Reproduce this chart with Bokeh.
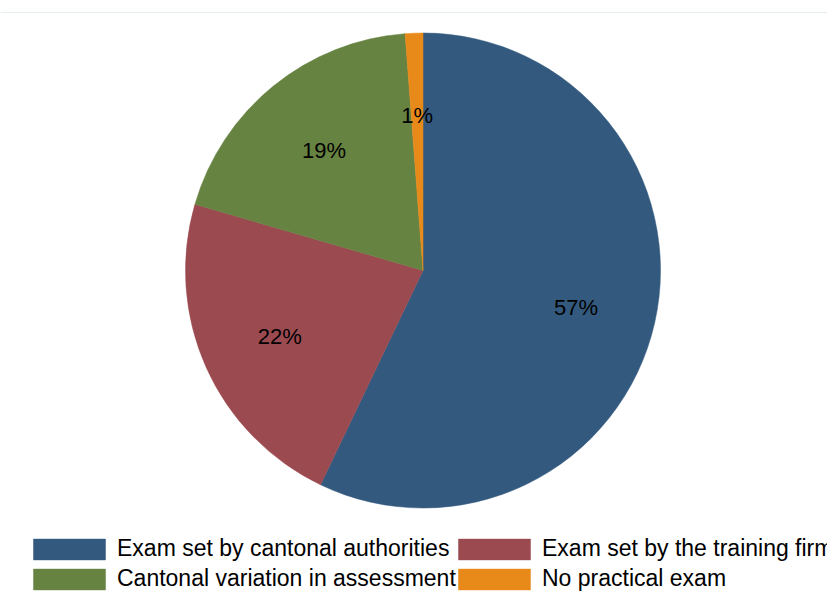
import math
from bokeh.plotting import figure
from bokeh.models import Range1d, Legend, LegendItem, ColumnDataSource, Span
from bokeh.core.properties import value
from bokeh.embed import file_html
from bokeh.resources import INLINE

categories = ["Exam set by cantonal authorities", "Exam set by the training firm",
              "Cantonal variation in assessment", "No practical exam"]
shares = [57.1, 22.4, 19.3, 1.2]
labels = ["57%", "22%", "19%", "1%"]
colors = ["#335a7e", "#9b4a50", "#678342", "#e88a1a"]

W, H = 827, 608
CX, CY, R = 422.5, H - 270, 237.5
LR = 157

total = sum(shares)
starts, ends, lx, ly = [], [], [], []
cum = 0.0
for s in shares:
    a0 = math.pi / 2 - 2 * math.pi * cum / total
    cum += s
    a1 = math.pi / 2 - 2 * math.pi * cum / total
    starts.append(a0)
    ends.append(a1)
    mid = (a0 + a1) / 2
    lx.append(CX + LR * math.cos(mid))
    ly.append(CY + LR * math.sin(mid) - 2)

p = figure(width=W, height=H, output_backend="svg", toolbar_location=None,
           x_range=Range1d(0, W), y_range=Range1d(0, H), min_border=0)
p.axis.visible = False
p.grid.visible = False
p.outline_line_color = None
p.background_fill_color = "white"

renderers = []
for i in range(len(shares)):
    src = ColumnDataSource(dict(x=[CX], y=[CY], s=[starts[i]], e=[ends[i]]))
    r = p.wedge(x="x", y="y", radius=R, start_angle="s", end_angle="e", direction="clock",
                fill_color=colors[i], line_color=colors[i], line_width=0.5, source=src)
    renderers.append(r)

p.text(x=lx, y=ly, text=labels, text_align="center", text_baseline="middle",
       text_font=value("Liberation Sans"), text_font_size="22px", text_color="black")

p.add_layout(Span(location=H - 12, dimension="width", line_color="#e6eded", line_width=1))

legend_style = dict(glyph_width=90, glyph_height=26, label_standoff=3, spacing=3,
                    padding=0, margin=0, label_text_font="Liberation Sans",
                    label_text_font_size="23px", label_text_color="black",
                    border_line_color=None, background_fill_alpha=0, label_height=26)

# two legend columns, laid out row-wise as in the original
col_items = [[0, 2], [1, 3]]
col_x = [24, 449]
for cx, idx in zip(col_x, col_items):
    items = [LegendItem(label=categories[i], renderers=[renderers[i]]) for i in idx]
    p.add_layout(Legend(items=items, location=(cx, 16), **legend_style), "center")

open("out.html", "w").write(file_html(p, INLINE))
